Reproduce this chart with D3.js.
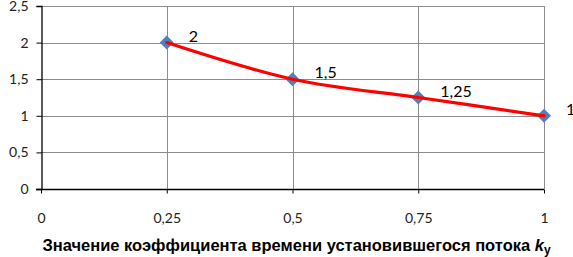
<!DOCTYPE html>
<html>
<head>
<meta charset="utf-8">
<script src="https://cdn.jsdelivr.net/npm/d3@7"></script>
<style>
  body { margin: 0; background: #fff; }
  svg { display: block; }
</style>
</head>
<body>
<div id="chart"></div>
<script>
// data
const kValues = [0.25, 0.5, 0.75, 1];
const ratioValues = [2, 1.5, 1.25, 1];
const pointLabels = ["2", "1,5", "1,25", "1"];
const xTicks = [0, 0.25, 0.5, 0.75, 1];
const yTicks = [0, 0.5, 1, 1.5, 2, 2.5];

const width = 573;
const height = 257;
const margin = { top: 6, left: 41, right: 29, bottom: 68 };

const fmt = d => String(d).replace(".", ",");

const svg = d3.select("#chart").append("svg")
  .attr("width", width)
  .attr("height", height);

const x = d3.scaleLinear().domain([0, 1]).range([margin.left, width - margin.right]);
const y = d3.scaleLinear().domain([0, 2.5]).range([height - margin.bottom, margin.top]);

// gridlines
svg.append("g")
  .selectAll("line.h")
  .data(yTicks.filter(d => d > 0))
  .join("line")
  .attr("x1", x(0)).attr("x2", x(1))
  .attr("y1", d => Math.round(y(d)) + 0.5).attr("y2", d => Math.round(y(d)) + 0.5)
  .attr("stroke", "#8c8c8c").attr("stroke-width", 1);

svg.append("g")
  .selectAll("line.v")
  .data(xTicks.filter(d => d > 0))
  .join("line")
  .attr("x1", d => Math.round(x(d)) + 0.5).attr("x2", d => Math.round(x(d)) + 0.5)
  .attr("y1", y(2.5)).attr("y2", y(0))
  .attr("stroke", "#8c8c8c").attr("stroke-width", 1);

// y axis
const yAxis = svg.append("g")
  .attr("transform", `translate(${Math.round(x(0)) + 0.5},0)`)
  .call(d3.axisLeft(y).tickValues(yTicks).tickFormat(fmt).tickSize(5).tickPadding(8));
yAxis.select(".domain").attr("stroke", "#000").attr("stroke-width", 1.3);
yAxis.selectAll(".tick line").attr("stroke", "#000");
yAxis.selectAll("text")
  .attr("font-family", "Lato, 'Open Sans', sans-serif")
  .attr("font-size", 14)
  .attr("fill", "#222");

// x axis
const xAxis = svg.append("g")
  .attr("transform", `translate(0,${Math.round(y(0)) + 0.5})`)
  .call(d3.axisBottom(x).tickValues(xTicks).tickFormat(fmt).tickSize(4).tickPadding(20));
xAxis.select(".domain").attr("d", `M${x(0) - 5},0H${x(1)}`).attr("stroke", "#000").attr("stroke-width", 1.3);
xAxis.selectAll(".tick line").attr("stroke", "#000");
xAxis.selectAll("text")
  .attr("font-family", "Lato, 'Open Sans', sans-serif")
  .attr("font-size", 14)
  .attr("fill", "#222");

const points = kValues.map((k, i) => ({ k: k, v: ratioValues[i], label: pointLabels[i] }));

// markers
svg.append("g")
  .selectAll("path")
  .data(points)
  .join("path")
  .attr("transform", d => `translate(${x(d.k)},${y(d.v)})`)
  .attr("d", "M0,-7L7,0L0,7L-7,0Z")
  .attr("fill", "#4f81bd");

// smoothed line
const line = d3.line()
  .x(d => x(d.k))
  .y(d => y(d.v))
  .curve(d3.curveCardinal.tension(0));

svg.append("path")
  .datum(points)
  .attr("d", line)
  .attr("fill", "none")
  .attr("stroke", "#ff0000")
  .attr("stroke-width", 3.2)
  .attr("stroke-linecap", "round");

// data labels
svg.append("g")
  .selectAll("text")
  .data(points)
  .join("text")
  .attr("x", d => x(d.k) + 22)
  .attr("y", d => y(d.v) - 1)
  .attr("font-family", "Lato, 'Open Sans', sans-serif")
  .attr("font-size", 16)
  .attr("fill", "#000")
  .text(d => d.label);

// axis title
const title = svg.append("text")
  .attr("x", (x(0) + x(1)) / 2 + 4)
  .attr("y", 251)
  .attr("text-anchor", "middle")
  .attr("font-family", "'Liberation Sans', Arial, sans-serif")
  .attr("font-size", 16.5)
  .attr("font-weight", "bold")
  .attr("fill", "#000");
title.append("tspan").text("Значение коэффициента времени установившегося потока ");
title.append("tspan").attr("font-style", "italic").text("k");
title.append("tspan").attr("font-size", 12).attr("dy", 3).text("у");
</script>
</body>
</html>
